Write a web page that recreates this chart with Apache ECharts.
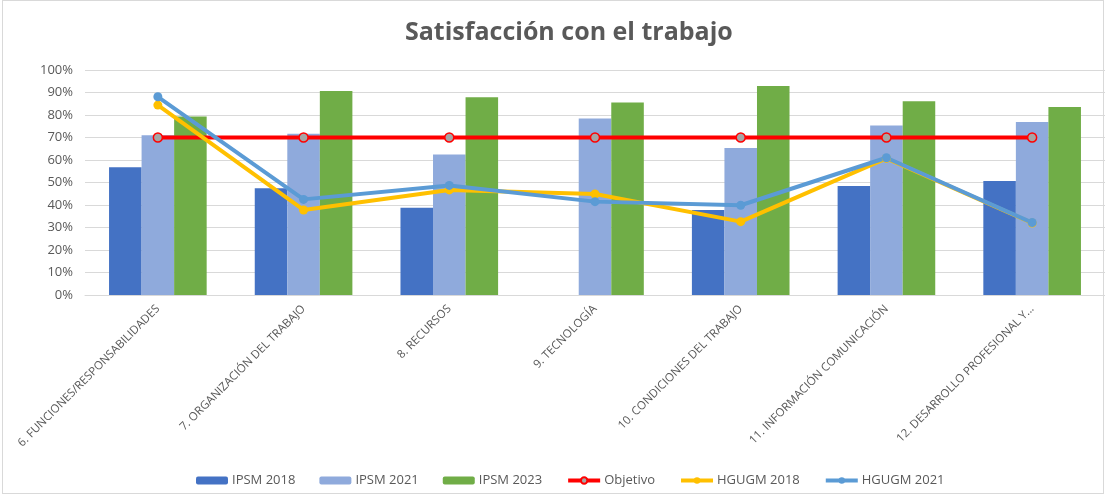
<!DOCTYPE html>
<html>
<head>
<meta charset="utf-8">
<script src="https://cdn.jsdelivr.net/npm/echarts@6/dist/echarts.min.js"></script>
<style>
  html, body { margin: 0; padding: 0; background: #fff; }
  #frame { position: absolute; left: 2px; top: 0; width: 1100px; height: 492px; border: 1px solid #d9d9d9; }
  #chart { position: absolute; left: 0; top: 0; width: 1105px; height: 496px; }
</style>
</head>
<body>
<div id="frame"></div>
<div id="chart"></div>
<script>
var categories = [
  '6. FUNCIONES/RESPONSABILIDADES',
  '7. ORGANIZACIÓN DEL TRABAJO',
  '8. RECURSOS',
  '9. TECNOLOGÍA',
  '10. CONDICIONES DEL TRABAJO',
  '11. INFORMACIÓN COMUNICACIÓN',
  '12. DESARROLLO PROFESIONAL Y...'
];
var ipsm2018 = [0.568, 0.474, 0.388, null, 0.378, 0.484, 0.507];
var ipsm2021 = [0.710, 0.717, 0.625, 0.785, 0.653, 0.753, 0.769];
var ipsm2023 = [0.793, 0.907, 0.879, 0.856, 0.929, 0.861, 0.836];
var objetivo = [0.70, 0.70, 0.70, 0.70, 0.70, 0.70, 0.70];
var hgugm2018 = [0.844, 0.378, 0.467, 0.449, 0.326, 0.607, 0.320];
var hgugm2021 = [0.881, 0.425, 0.487, 0.415, 0.399, 0.610, 0.322];

var textColor = '#595959';
var font = 'Open Sans';

var chart = echarts.init(document.getElementById('chart'));

function barSeries(name, data, color) {
  return {
    name: name,
    type: 'bar',
    data: data,
    barGap: '0%',
    barCategoryGap: '33%',
    itemStyle: { color: color },
    emphasis: { disabled: true }
  };
}

function lineSeries(name, data, color, markerFill) {
  return {
    name: name,
    type: 'line',
    data: data,
    symbol: 'circle',
    symbolSize: 9,
    lineStyle: { color: color, width: 4 },
    itemStyle: { color: markerFill || color, borderColor: color, borderWidth: markerFill ? 1.5 : 0 },
    emphasis: { disabled: true }
  };
}

chart.setOption({
  animation: false,
  title: {
    text: 'Satisfacción con el trabajo',
    left: 400,
    top: 15,
    textStyle: { fontFamily: font, fontSize: 25, fontWeight: 'bold', color: textColor }
  },
  legend: {
    bottom: 4,
    left: 191,
    itemWidth: 32,
    itemHeight: 8,
    itemGap: 24,
    lineStyle: { width: 4 },
    textStyle: { fontFamily: font, fontSize: 13, color: textColor, padding: [0, 0, 0, -1] },
    data: ['IPSM 2018', 'IPSM 2021', 'IPSM 2023', 'Objetivo', 'HGUGM 2018', 'HGUGM 2021']
  },
  grid: { left: 85, right: 0, top: 70, bottom: 201 },
  xAxis: {
    type: 'category',
    data: categories,
    axisLine: { lineStyle: { color: '#d9d9d9' } },
    axisTick: { show: false },
    axisLabel: {
      interval: 0,
      rotate: 45,
      margin: 12,
      fontFamily: font,
      fontSize: 11.5,
      color: textColor
    }
  },
  yAxis: {
    type: 'value',
    min: 0,
    max: 1,
    interval: 0.1,
    axisLine: { show: false },
    axisTick: { show: false },
    splitLine: { lineStyle: { color: '#d9d9d9', width: 1 } },
    axisLabel: {
      margin: 12,
      fontFamily: font,
      fontSize: 13,
      color: textColor,
      formatter: function (v) { return Math.round(v * 100) + '%'; }
    }
  },
  series: [
    barSeries('IPSM 2018', ipsm2018, '#4472c4'),
    barSeries('IPSM 2021', ipsm2021, '#8faadc'),
    barSeries('IPSM 2023', ipsm2023, '#70ad47'),
    lineSeries('Objetivo', objetivo, '#ff0000', '#a5a5a5'),
    lineSeries('HGUGM 2018', hgugm2018, '#ffc000'),
    lineSeries('HGUGM 2021', hgugm2021, '#5b9bd5')
  ]
});
</script>
</body>
</html>
